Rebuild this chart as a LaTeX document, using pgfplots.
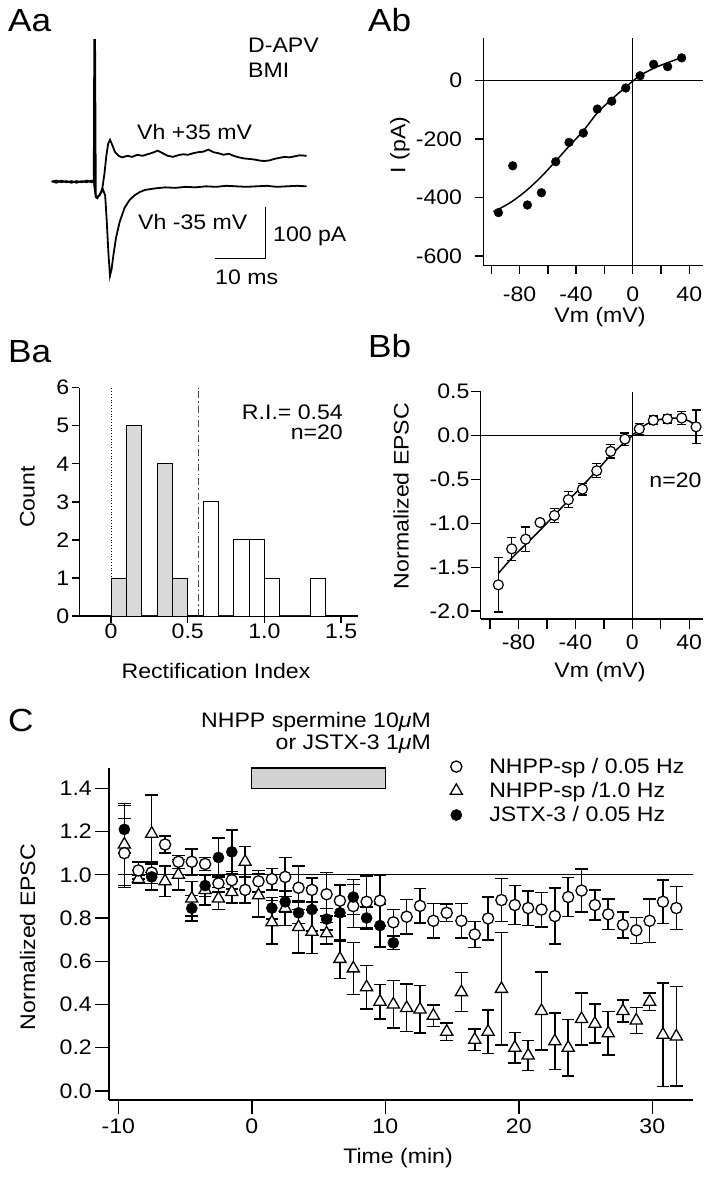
\documentclass[border=0pt]{standalone}
\usepackage{fontspec}
\setmainfont{Liberation Sans}[FakeStretch=1.1]
\usepackage{pgfplots}
\usepackage{pgfplotstable}
\pgfplotsset{compat=1.18}
\newcommand\fs{\fontsize{21}{24}\selectfont}
\newcommand\fl{\fontsize{32}{36}\selectfont}

\pgfplotsset{
  igor/.style={scale only axis, anchor=south west, clip=false,
    axis x line*=bottom, axis y line*=left,
    axis line style={-, line width=1.4pt},
    tick align=outside,
    every tick/.style={black, line width=1.4pt},
    tick label style={font=\fs, inner sep=1pt},
    /pgf/number format/assume math mode=true,
  },
}

% Ab: I-V of one cell
\pgfplotstableread{
v i
-94.9 -451
-84.8 -291
-74.4 -425
-64.5 -383
-54.4 -277
-45.0 -211
-34.9 -179
-25.0 -97
-14.8 -70
-4.9 -25
5.2 17
14.8 56
24.7 48
34.6 78
}\ivcell
\pgfplotstableread{
v i
-98.5 -447
-95 -440
-85 -412
-75 -375
-65 -330
-55 -278
-45 -224
-35 -172
-25 -110
-15 -64
-5 -22
0 -2
5 17
15 43
25 62
35 80
}\ivfit

% Bb: mean normalized I-V
\pgfplotstableread{
v y e
-94.2 -1.70 0.31
-84.8 -1.29 0.13
-75.0 -1.18 0.14
-64.9 -0.99 0.02
-54.8 -0.91 0.08
-45.0 -0.73 0.09
-35.1 -0.61 0.065
-25.0 -0.40 0.08
-15.2 -0.18 0.075
-5.2 -0.04 0.07
4.9 0.076 0.063
14.8 0.175 0.047
24.6 0.19 0.048
34.7 0.20 0.075
44.8 0.10 0.19
}\ivmean
\pgfplotstableread{
v y
-94.2 -1.57
-85 -1.40
-75 -1.24
-65 -1.08
-55 -0.91
-45 -0.74
-35 -0.57
-25 -0.40
-15 -0.22
-5 -0.07
0 0
5 0.075
10 0.13
15 0.165
20 0.185
25 0.195
30 0.20
35 0.195
40 0.165
44.8 0.11
}\ivmeanfit

% C: time course
\pgfplotstableread{
t y e
-9.55 1.10 0.16
-8.5 1.02 0.04
-7.5 1.01 0.05
-6.5 1.14 0.04
-5.5 1.06 0.03
-4.5 1.06 0.06
-3.5 1.05 0.03
-2.5 0.96 0.04
-1.5 0.975 0.04
-0.5 0.93 0.06
0.5 0.97 0.05
1.5 0.98 0.05
2.5 0.99 0.09
3.5 0.94 0.10
4.5 0.93 0.055
5.6 0.91 0.10
6.6 0.88 0.07
7.6 0.855 0.10
8.6 0.875 0.12
9.6 0.88 0.12
10.6 0.78 0.06
11.6 0.806 0.08
12.6 0.856 0.08
13.6 0.787 0.08
14.6 0.824 0.04
15.7 0.787 0.08
16.7 0.724 0.06
17.7 0.798 0.10
18.7 0.883 0.10
19.7 0.86 0.09
20.7 0.846 0.08
21.7 0.839 0.08
22.7 0.809 0.13
23.7 0.897 0.09
24.7 0.927 0.10
25.7 0.86 0.07
26.7 0.817 0.07
27.8 0.768 0.06
28.8 0.743 0.06
29.8 0.787 0.10
30.8 0.875 0.10
31.8 0.846 0.10
}\spslow
\pgfplotstableread{
t y e
-9.55 1.14 0.19
-8.5 0.98 0.02
-7.5 1.19 0.18
-6.5 0.97 0.07
-5.5 1.00 0.07
-4.5 0.89 0.08
-3.5 0.93 0.07
-2.5 0.89 0.05
-1.5 0.92 0.05
-0.5 1.06 0.07
0.5 0.905 0.10
1.5 0.78 0.10
2.5 0.846 0.08
3.5 0.758 0.12
4.5 0.736 0.10
5.6 0.729 0.05
6.6 0.611 0.09
7.6 0.567 0.12
8.6 0.48 0.10
9.6 0.413 0.08
10.6 0.40 0.11
11.6 0.384 0.11
12.6 0.377 0.11
13.6 0.348 0.05
14.6 0.274 0.04
15.7 0.457 0.09
16.7 0.237 0.05
17.7 0.274 0.10
18.7 0.472 0.26
19.7 0.20 0.07
20.7 0.164 0.07
21.7 0.37 0.18
22.7 0.23 0.13
23.7 0.20 0.13
24.7 0.333 0.12
25.7 0.311 0.09
26.7 0.267 0.10
27.8 0.37 0.05
28.8 0.326 0.06
29.8 0.413 0.04
30.8 0.26 0.24
31.8 0.252 0.23
}\spfast
\pgfplotstableread{
t y e
-9.55 1.21 0.11
-7.5 0.99 0.06
-4.5 0.845 0.06
-3.5 0.95 0.05
-2.5 1.08 0.09
-1.5 1.106 0.10
1.5 0.846 0.05
2.5 0.875 0.05
3.5 0.824 0.05
4.5 0.839 0.10
5.6 0.795 0.05
6.6 0.824 0.13
7.6 0.897 0.08
8.6 0.80 0.05
9.6 0.765 0.10
10.6 0.685 0.03
}\jstx

\begin{document}
\begin{tikzpicture}
\useasboundingbox (0,0) rectangle (706pt,1200pt);

% ---------- Aa: current traces ----------
\begin{axis}[scale only axis, anchor=south west, at={(51.7pt,914.9pt)},
  width=255pt, height=248.2pt, xmin=-8.4, xmax=41.9, ymin=-200, ymax=280,
  axis lines=none, clip=false]
\addplot[black, line width=1.8pt] coordinates {
(-8.4,1) (-7.5,-2) (-6.5,2) (-5.5,-1) (-4.5,1) (-3.5,-2) (-2.5,1) (-1.5,-1) (-0.5,2) (-0.1,0)
(0,274) (0.15,274) (0.3,-29) (0.6,-29) (1.1,-26) (1.6,-12) (2.0,15) (2.4,52) (2.75,74) (3.1,81)
(3.5,72) (4.1,57) (4.8,50) (5.5,47) (6.5,50) (7.5,48) (8.5,52) (9.5,50) (10.5,53) (11.5,56)
(12.5,60) (13.5,55) (14.5,50) (15.5,48) (16.5,51) (17.5,53) (18.5,52) (19.5,55) (20.5,57)
(21.5,58) (22.5,62) (23.5,57) (24.5,55) (25.5,52) (26.5,54) (27.5,50) (28.5,47) (29.5,45)
(30.5,44) (31.5,43) (32.5,41) (33.5,40) (34.5,41) (35.5,44) (36.5,46) (37.5,48) (38.5,47)
(39.5,49) (40.5,51) (41.9,50)};
\addplot[black, line width=1.8pt] coordinates {
(-8.4,0) (-7.5,2) (-6.5,-1) (-5.5,1) (-4.5,-2) (-3.5,1) (-2.5,-1) (-1.5,2) (-0.5,-1) (-0.1,0)
(0.3,-30) (0.6,-32) (1.1,-24) (1.75,-16) (2.15,-27) (2.45,-75) (2.8,-140) (3.1,-182)
(3.4,-170) (3.8,-140) (4.3,-108) (5.0,-78) (6.0,-50) (7.0,-35) (8.0,-26) (9.0,-20)
(10,-16) (12,-13) (14,-11) (16,-12) (18,-10) (20,-11) (22,-9) (24,-10) (26,-8) (28,-9)
(30,-10) (32,-9) (34,-8) (36,-10) (38,-9) (40,-8) (41.9,-9)};
\addplot[black, line width=1.4pt] coordinates {(23.8,-148.2) (33.8,-148.2) (33.8,-48.4)};
\end{axis}

% ---------- Ab: I-V ----------
\begin{axis}[igor, at={(483.3pt,934.3pt)}, width=219.7pt, height=227.7pt,
  xmin=-105.6, xmax=49.7, ymin=-632.5, ymax=146,
  xtick={-80,-40,0,40}, minor xtick={-100,-60,-20,20},
  ytick={-600,-400,-200,0},
  yticklabel style={xshift=-12pt}, xticklabel style={yshift=-12pt},
  major tick length=8pt, minor tick length=8pt]
\addplot[black, line width=1.3pt] coordinates {(-105.6,0) (49.7,0)};
\addplot[black, line width=1.3pt] coordinates {(0,-632.5) (0,146)};
\addplot[black, line width=1.5pt, smooth] table[x=v, y=i] {\ivfit};
\addplot[only marks, mark=*, mark size=4.4pt, black] table[x=v, y=i] {\ivcell};
\end{axis}

% ---------- Ba: histogram ----------
\begin{axis}[igor, at={(79.3pt,584pt)}, width=278.7pt, height=228.3pt,
  xmin=-0.207, xmax=1.61, ymin=0, ymax=6,
  xtick={0,0.5,1,1.5}, xticklabels={0,0.5,1.0,1.5},
  ytick={0,1,2,3,4,5,6}, yticklabel style={xshift=-2pt},
  major tick length=7pt]
\addplot[ybar interval, fill=gray!30, draw=black, line width=0.8pt]
  coordinates {(0,1) (0.1,5) (0.2,0) (0.3,4) (0.4,1) (0.5,0)};
\addplot[ybar interval, fill=white, draw=black, line width=0.8pt]
  coordinates {(0.6,3) (0.7,0) (0.8,2) (0.9,2) (1.0,1) (1.1,0) (1.2,0) (1.3,1) (1.4,0)};
\addplot[black, dotted, line width=0.8pt] coordinates {(0,0) (0,6)};
\addplot[black!70, line width=0.9pt, dash pattern=on 7pt off 3pt on 1.5pt off 3pt]
  coordinates {(0.57,0) (0.57,6)};
\end{axis}

% ---------- Bb: normalized I-V ----------
\begin{axis}[igor, at={(480.7pt,581pt)}, width=222.6pt, height=227.3pt,
  xmin=-106.6, xmax=49.9, ymin=-2.089, ymax=0.5,
  xtick={-80,-40,0,40}, minor xtick={-100,-60,-20,20},
  ytick={-2,-1.5,-1,-0.5,0,0.5},
  yticklabel style={/pgf/number format/fixed, /pgf/number format/fixed zerofill,
    /pgf/number format/precision=1},
  xticklabel style={yshift=-5pt},
  major tick length=10pt, minor tick length=10pt]
\addplot[black, line width=1.3pt] coordinates {(-106.6,0) (49.9,0)};
\addplot[black, line width=1.3pt] coordinates {(0,-2.089) (0,0.5)};
\addplot[black, line width=1.5pt, smooth] table[x=v, y=y] {\ivmeanfit};
\addplot[only marks, mark=*, mark size=5pt, mark options={fill=white, draw=black, line width=1.2pt},
  error bars/.cd, y dir=both, y explicit,
  error bar style={line width=1.3pt},
  error mark options={rotate=90, mark size=4.5pt, line width=1.3pt}]
  table[x=v, y=y, y error=e] {\ivmean};
\end{axis}

% ---------- C: time course ----------
\begin{axis}[igor, at={(109pt,100pt)}, width=584pt, height=332pt,
  xmin=-10.7, xmax=33.05, ymin=-0.042, ymax=1.494,
  xtick={-10,0,10,20,30}, ytick={0,0.2,0.4,0.6,0.8,1,1.2,1.4},
  yticklabel style={/pgf/number format/fixed, /pgf/number format/fixed zerofill,
    /pgf/number format/precision=1, xshift=-2pt},
  xticklabel style={yshift=-4pt},
  major tick length=14pt,
  legend image code/.code={\draw[#1] plot coordinates {(6pt,0pt)};
    \path[draw=none, fill=none] (0pt,-5pt) rectangle (38pt,5pt);},
  legend style={draw=none, fill=none, font=\fs, at={(0.584,1.033)}, anchor=north west,
    row sep=5.5pt, inner sep=0pt, nodes={inner sep=1pt}},
  legend cell align=left]
\addlegendimage{only marks, mark=*, mark size=5.6pt, mark options={fill=white, draw=black, line width=1.3pt}}
\addlegendentry{NHPP-sp / 0.05 Hz}
\addlegendimage{only marks, mark=triangle*, mark size=7pt, mark options={fill=white, draw=black, line width=1.3pt}}
\addlegendentry{NHPP-sp /1.0 Hz}
\addlegendimage{only marks, mark=*, mark size=5.6pt, black}
\addlegendentry{JSTX-3 / 0.05 Hz}
\addplot[forget plot, black, line width=1.3pt] coordinates {(-10,1) (33.05,1)};
\addplot[forget plot, fill=gray!35, draw=black, line width=1.2pt]
  coordinates {(0,1.40) (10,1.40) (10,1.494) (0,1.494)} -- cycle;
\addplot[forget plot, only marks, mark=triangle*, mark size=7pt,
  mark options={fill=white, draw=black, line width=1.3pt},
  error bars/.cd, y dir=both, y explicit, error bar style={line width=1.5pt},
  error mark options={rotate=90, mark size=6.3pt, line width=1.5pt}]
  table[x=t, y=y, y error=e] {\spfast};
\addplot[forget plot, only marks, mark=*, mark size=5.6pt,
  mark options={fill=white, draw=black, line width=1.3pt},
  error bars/.cd, y dir=both, y explicit, error bar style={line width=1.5pt},
  error mark options={rotate=90, mark size=6.3pt, line width=1.5pt}]
  table[x=t, y=y, y error=e] {\spslow};
\addplot[forget plot, only marks, mark=*, mark size=5.6pt, black,
  error bars/.cd, y dir=both, y explicit, error bar style={line width=1.5pt},
  error mark options={rotate=90, mark size=6.3pt, line width=1.5pt}]
  table[x=t, y=y, y error=e] {\jstx};
\end{axis}

% ---------- text ----------
\node[anchor=base west, font=\fl, inner sep=0pt] at (8pt,1168pt) {Aa};
\node[anchor=base west, font=\fl, inner sep=0pt] at (368pt,1168pt) {Ab};
\node[anchor=base west, font=\fl, inner sep=0pt] at (8pt,837pt) {Ba};
\node[anchor=base west, font=\fl, inner sep=0pt] at (368pt,842pt) {Bb};
\node[anchor=base west, font=\fl, inner sep=0pt] at (8pt,468pt) {C};

\node[anchor=base west, font=\fs, inner sep=0pt] at (248pt,1147pt) {D-APV};
\node[anchor=base west, font=\fs, inner sep=0pt] at (248pt,1122pt) {BMI};
\node[anchor=base west, font=\fs, inner sep=0pt] at (137pt,1060pt) {Vh +35 mV};
\node[anchor=base west, font=\fs, inner sep=0pt] at (138pt,970pt) {Vh -35 mV};
\node[anchor=base west, font=\fs, inner sep=0pt] at (273pt,958pt) {100 pA};
\node[anchor=base west, font=\fs, inner sep=0pt] at (215pt,915pt) {10 ms};

\node[rotate=90, font=\fs, inner sep=0pt] at (400pt,1055pt) {I (pA)};
\node[font=\fs, inner sep=0pt] at (600pt,883pt) {Vm (mV)};

\node[anchor=base east, font=\fs, inner sep=0pt] at (343pt,780pt) {R.I.= 0.54};
\node[anchor=base east, font=\fs, inner sep=0pt] at (343pt,760pt) {n=20};
\node[rotate=90, font=\fs, inner sep=0pt] at (27.5pt,703pt) {Count};
\node[font=\fs, inner sep=0pt] at (216pt,529pt) {Rectification Index};

\node[anchor=base east, font=\fs, inner sep=0pt] at (701.7pt,712pt) {n=20};
\node[rotate=90, font=\fs, inner sep=0pt] at (401pt,704pt) {Normalized EPSC};
\node[font=\fs, inner sep=0pt] at (600pt,528pt) {Vm (mV)};

\node[anchor=base east, font=\fs, inner sep=0pt] at (431pt,472pt) {NHPP spermine 10{\itshape μ}M};
\node[anchor=base east, font=\fs, inner sep=0pt] at (431pt,450pt) {or JSTX-3 1{\itshape μ}M};
\node[rotate=90, font=\fs, inner sep=0pt] at (27.5pt,263pt) {Normalized EPSC};
\node[font=\fs, inner sep=0pt] at (398pt,42pt) {Time (min)};
\end{tikzpicture}
\end{document}
